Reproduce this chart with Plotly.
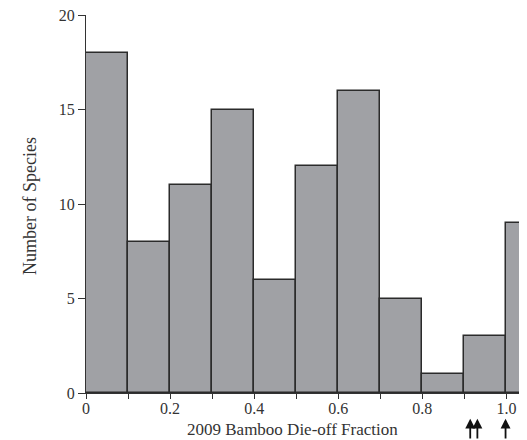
import plotly.graph_objects as go

bin_starts = [0.0, 0.1, 0.2, 0.3, 0.4, 0.5, 0.6, 0.7, 0.8, 0.9, 1.0]
counts = [18, 8, 11, 15, 6, 12, 16, 5, 1, 3, 9]
bin_width = 0.1
x_tick_vals = [0, 0.2, 0.4, 0.6, 0.8, 1.0]
x_tick_text = ["0", "0.2", "0.4", "0.6", "0.8", "1.0"]
x_minor_ticks = [0.0, 0.1, 0.2, 0.3, 0.4, 0.5, 0.6, 0.7, 0.8, 0.9, 1.0]
y_tick_vals = [0, 5, 10, 15, 20]
arrow_positions = [0.914, 0.931, 0.998]
x_title = "2009 Bamboo Die-off Fraction"
y_title = "Number of Species"

serif = "Liberation Serif, Times New Roman, serif"
font = dict(family=serif, size=16, color="#333333")

fig = go.Figure()
fig.add_trace(go.Bar(
    x=[s + bin_width / 2 for s in bin_starts],
    y=counts,
    width=bin_width,
    marker=dict(color="#a0a1a5", line=dict(color="#2b2b2b", width=1.5)),
))

fig.update_xaxes(
    range=[0, 1.03], tickvals=x_tick_vals, ticktext=x_tick_text,
    ticks="outside", ticklen=1, tickcolor="#333", tickwidth=1,
    minor=dict(tickvals=x_minor_ticks, ticks="outside", ticklen=5, tickcolor="#333", tickwidth=1),
    showline=True, linecolor="#333", linewidth=1.2, showgrid=False, zeroline=False,
    tickfont=font, automargin=False,
)
fig.update_yaxes(
    range=[0, 20], tickvals=y_tick_vals, ticks="outside", ticklen=7, tickcolor="#333",
    showline=True, linecolor="#333", linewidth=1.2, showgrid=False, zeroline=False,
    tickfont=font, automargin=False,
)

fig.add_annotation(
    text=x_title, xref="paper", yref="paper", x=0.478, y=-0.096,
    xanchor="center", yanchor="middle", showarrow=False,
    font=dict(family=serif, size=17, color="#333"),
)
fig.add_annotation(
    text=y_title, xref="paper", yref="paper", x=-0.129, y=0.495,
    xanchor="center", yanchor="middle", showarrow=False, textangle=-90,
    font=dict(family=serif, size=18, color="#333"),
)

for xp in arrow_positions:
    fig.add_annotation(
        x=xp, y=-0.068, xref="x", yref="paper", text="", showarrow=True,
        ax=0, ay=22, arrowhead=2, arrowsize=1.1, arrowwidth=1.8, arrowcolor="#111",
    )

fig.update_layout(
    width=527, height=440,
    margin=dict(l=86, r=8, t=15, b=47),
    plot_bgcolor="white", paper_bgcolor="white",
    showlegend=False, bargap=0,
)
fig.write_html(
    "out.html",
    config={"displayModeBar": False},
    post_script="document.body.style.margin='0';document.body.style.overflow='hidden';",
)
